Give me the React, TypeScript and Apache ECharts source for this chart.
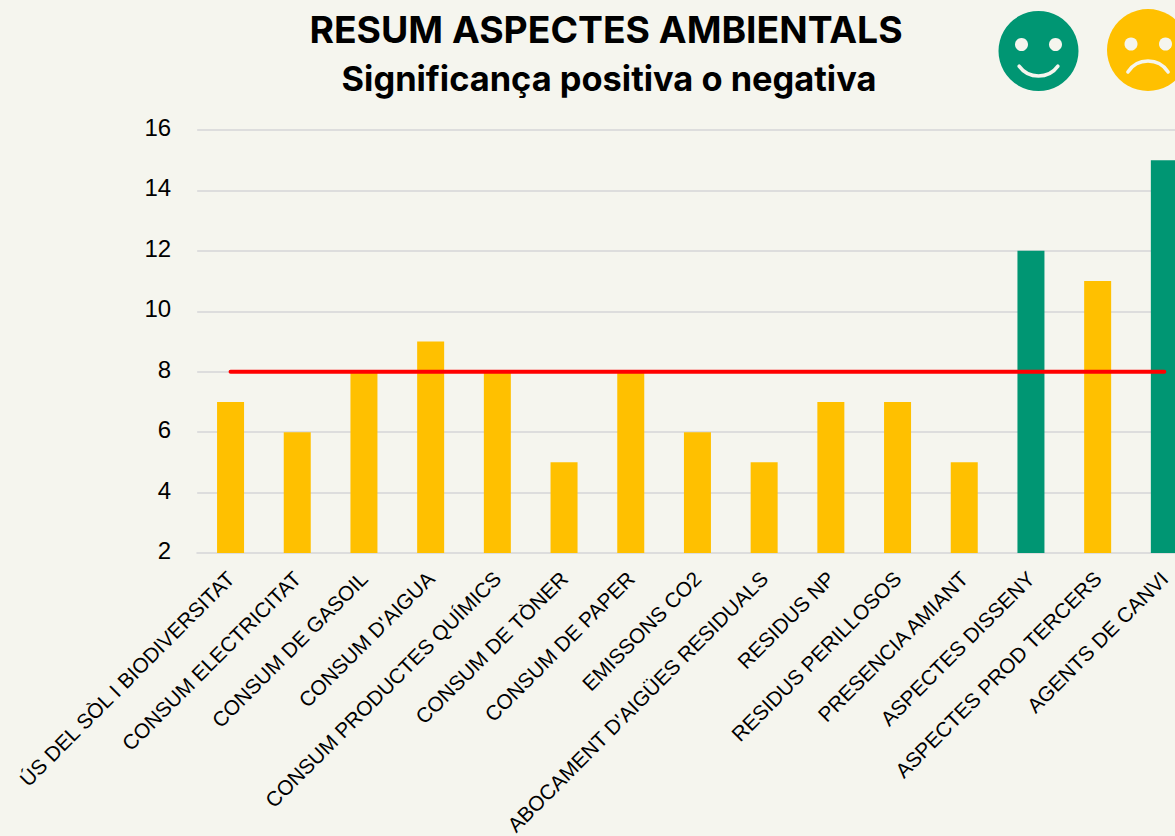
import React, { useEffect, useRef } from "react";
import * as echarts from "echarts";

const categories = [
  "ÚS DEL SÒL I BIODIVERSITAT",
  "CONSUM ELECTRICITAT",
  "CONSUM DE GASOIL",
  "CONSUM D'AIGUA",
  "CONSUM PRODUCTES QUÍMICS",
  "CONSUM DE TÒNER",
  "CONSUM DE PAPER",
  "EMISSONS CO2",
  "ABOCAMENT D'AIGÜES RESIDUALS",
  "RESIDUS NP",
  "RESIDUS PERILLOSOS",
  "PRESENCIA AMIANT",
  "ASPECTES DISSENY",
  "ASPECTES PROD TERCERS",
  "AGENTS DE CANVI",
];
const values = [7, 6, 8, 9, 8, 5, 8, 6, 5, 7, 7, 5, 12, 11, 15];
const threshold = [8, 8, 8, 8, 8, 8, 8, 8, 8, 8, 8, 8, 8, 8, 8];
const positive = ["ASPECTES DISSENY", "AGENTS DE CANVI"];
const titleMain = "RESUM ASPECTES AMBIENTALS";
const titleSub = "Significança positiva o negativa";

const GREEN = "#009673";
const YELLOW = "#FFC000";
const BG = "#F5F5EE";
const deg = (d: number) => (d * Math.PI) / 180;

export default function App() {
  const ref = useRef<HTMLDivElement>(null);
  useEffect(() => {
    document.body.style.margin = "0";
    document.body.style.overflow = "hidden";
    document.body.style.background = BG;
    const chart = echarts.init(ref.current!, undefined, { renderer: "svg" });
    chart.setOption({
      animation: false,
      backgroundColor: BG,
      title: [
        {
          text: titleMain,
          left: 601,
          top: 6,
          textAlign: "center",
          textStyle: { fontFamily: "Inter", fontSize: 37.3, fontWeight: 700, color: "#000" },
        },
        {
          text: titleSub,
          left: 604,
          top: 56,
          textAlign: "center",
          textStyle: { fontFamily: "Inter", fontSize: 34.4, fontWeight: 700, color: "#000" },
        },
      ],
      grid: { left: 197.2, top: 130, width: 1000.5, height: 423, outerBoundsMode: "none" },
      xAxis: {
        type: "category",
        data: categories,
        axisTick: { show: false },
        axisLine: { show: true, lineStyle: { color: "#DDDDDD", width: 2 } },
        axisLabel: {
          interval: 0,
          rotate: 45,
          fontFamily: "Liberation Sans",
          fontSize: 20.8,
          color: "#000",
          margin: 22,
        },
      },
      yAxis: {
        type: "value",
        min: 2,
        max: 16,
        interval: 2,
        axisLine: { show: false },
        axisTick: { show: false },
        splitLine: { lineStyle: { color: "#DDDDDD", width: 2 } },
        axisLabel: {
          fontFamily: "Liberation Sans",
          fontSize: 24,
          color: "#000",
          margin: 26,
          verticalAlign: "bottom",
          lineHeight: 5,
        },
      },
      series: [
        {
          type: "bar",
          data: values,
          barWidth: 27,
          itemStyle: {
            color: (p: any) => (positive.includes(categories[p.dataIndex]) ? GREEN : YELLOW),
          },
        },
        {
          type: "line",
          data: threshold,
          symbol: "none",
          lineStyle: { color: "#FF0000", width: 4, cap: "round" },
        },
      ],
      graphic: [
        { type: "circle", shape: { cx: 1038.5, cy: 51, r: 40 }, style: { fill: GREEN } },
        { type: "circle", shape: { cx: 1021.5, cy: 44.5, r: 6.5 }, style: { fill: BG } },
        { type: "circle", shape: { cx: 1055.5, cy: 44.5, r: 6.5 }, style: { fill: BG } },
        {
          type: "arc",
          shape: { cx: 1038.5, cy: 52, r: 24, startAngle: deg(36), endAngle: deg(144) },
          style: { stroke: BG, lineWidth: 3.5, fill: "none", lineCap: "round" },
        },
        { type: "circle", shape: { cx: 1148, cy: 50, r: 41 }, style: { fill: YELLOW } },
        { type: "circle", shape: { cx: 1131, cy: 44, r: 6.5 }, style: { fill: BG } },
        { type: "circle", shape: { cx: 1165.5, cy: 44, r: 6.5 }, style: { fill: BG } },
        {
          type: "arc",
          shape: { cx: 1148, cy: 85, r: 24, startAngle: deg(213), endAngle: deg(327) },
          style: { stroke: BG, lineWidth: 3.5, fill: "none", lineCap: "round" },
        },
      ],
    });
    return () => chart.dispose();
  }, []);
  return <div ref={ref} style={{ width: 1260, height: 836 }} />;
}
